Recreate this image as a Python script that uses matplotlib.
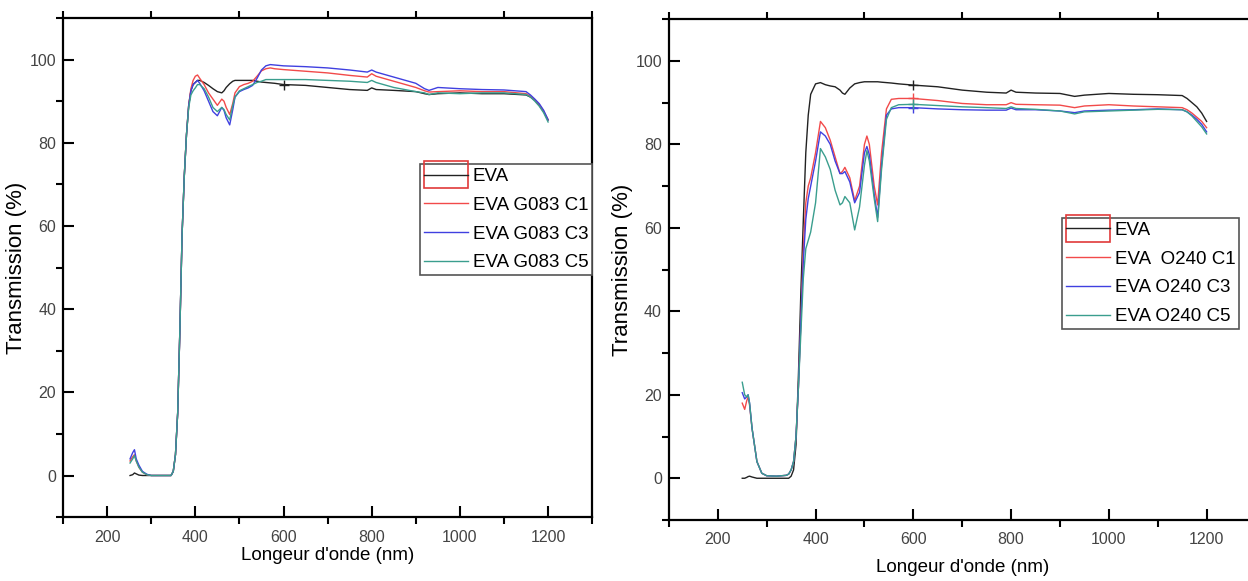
import matplotlib
matplotlib.use("Agg")
import matplotlib.pyplot as plt
from matplotlib.patches import Rectangle
from matplotlib.lines import Line2D
from matplotlib.legend_handler import HandlerTuple, HandlerPatch
from matplotlib.ticker import MultipleLocator

plt.rcParams['font.family'] = ['Liberation Sans', 'DejaVu Sans']

# --- panneau gauche : EVA + G083 ---
wl_g = [252, 258, 262, 266, 272, 280, 290, 300, 320, 340, 345, 350, 355, 360, 365,
        370, 375, 380, 385, 390, 395, 400, 405, 410, 420, 430, 440, 450, 460, 465,
        470, 478, 485, 490, 500, 510, 520, 530, 540, 550, 560, 570, 580, 600, 650,
        700, 750, 790, 800, 810, 850, 900, 920, 930, 950, 1000, 1050, 1100, 1150, 1160,
        1170, 1180, 1190, 1200]
eva_g = [0, 0.2, 0.6, 0.4, 0.1, 0, 0, 0, 0, 0, 0, 1, 5, 15, 35,
         58, 72, 82, 89, 92.5, 94, 94.5, 95, 95, 94.5, 93.8, 93, 92.3, 92, 92.5,
         93.3, 94.2, 94.8, 95, 95, 95, 95, 95, 94.8, 94.6, 94.5, 94.4, 94.3, 94, 93.8,
         93.3, 92.8, 92.6, 93.2, 92.8, 92.6, 92.3, 91.8, 91.6, 91.8, 92, 91.8, 91.8, 91.5, 91,
         90.2, 89, 87.5, 85.5]
g083_c1 = [3.5, 4.5, 5, 3.5, 2, 0.8, 0.2, 0, 0, 0, 0, 1, 5, 15, 35,
           58, 72, 82, 89, 93, 95, 96, 96.3, 95.5, 94, 92, 90.5, 89, 90.5, 90,
           88.5, 86.8, 89.5, 92, 93.5, 94, 94.3, 94.8, 96, 97.3, 97.8, 98, 97.8, 97.6, 97.2,
           96.8, 96.2, 95.8, 96.6, 96, 94.8, 93.3, 92.5, 92.2, 92.3, 92.5, 92.3, 92.3, 91.8, 91.2,
           90.3, 89.2, 87.6, 85.5]
g083_c3 = [4, 5.5, 6.2, 4, 2.5, 1, 0.3, 0, 0, 0, 0, 1, 5, 15, 35,
           58, 72, 82, 89, 92.5, 94, 94.5, 95, 94.3, 92.5, 90, 87.5, 86.5, 88.5, 87.8,
           86, 84.3, 88, 91, 92.3, 92.8, 93.2, 93.8, 95.5, 97.5, 98.5, 98.8, 98.7, 98.5, 98.3,
           98, 97.5, 97, 97.5, 97, 95.8, 94.3, 93, 92.6, 93.3, 93, 92.8, 92.7, 92.3, 91.5,
           90.5, 89.4, 87.8, 85.5]
g083_c5 = [3, 4, 4.8, 3.5, 2, 0.8, 0.2, 0, 0, 0, 0, 1, 5, 15, 35,
           58, 72, 82, 88.5, 91.5, 92.5, 93.2, 94, 94, 93, 91, 88.5, 87.5, 88.5, 88,
           86.8, 85.5, 89, 91, 92.5, 93, 93.5, 94, 94.5, 94.8, 95.2, 95.2, 95.2, 95.2, 95.2,
           95, 94.8, 94.5, 95, 94.5, 93.3, 92.3, 92, 91.6, 92, 91.8, 92, 92, 91.6, 91,
           90, 88.8, 87.2, 85]
labels_g = ['EVA', 'EVA G083 C1', 'EVA G083 C3', 'EVA G083 C5']

# --- panneau droit : EVA + O240 ---
wl_o = [250, 255, 259, 262, 265, 270, 280, 290, 300, 320, 340, 345, 350, 355, 360,
        365, 370, 375, 380, 385, 390, 400, 410, 420, 430, 440, 450, 455, 460, 470,
        480, 490, 500, 505, 510, 520, 527, 535, 545, 555, 570, 600, 650, 700, 750,
        790, 800, 810, 850, 900, 930, 950, 1000, 1050, 1100, 1150, 1160, 1170, 1180, 1190,
        1200]
eva_o = [0, 0, 0.2, 0.4, 0.5, 0.3, 0, 0, 0, 0, 0, 0, 0.5, 2, 8,
         25, 45, 62, 78, 87, 92, 94.5, 94.8, 94.3, 94, 93.8, 93, 92.3, 92, 93.5,
         94.5, 94.8, 95, 95, 95, 95, 95, 94.9, 94.8, 94.7, 94.5, 94.2, 93.8, 93, 92.5,
         92.3, 93, 92.5, 92.3, 92.2, 91.5, 91.8, 92.2, 92, 91.9, 91.7, 91, 90, 89, 87.5,
         85.5]
o240_c1 = [18, 16.5, 18.5, 19.5, 17.5, 12, 4, 1.2, 0.6, 0.5, 0.7, 1, 2, 4, 10,
           22, 38, 55, 66, 70, 72, 78, 85.5, 84, 81, 77, 73, 73.5, 74.5, 72,
           66.5, 70, 80, 82, 80, 70, 65.5, 78, 88.5, 90.8, 91, 91, 90.5, 89.8, 89.5,
           89.5, 90, 89.6, 89.5, 89.4, 88.8, 89.2, 89.5, 89.2, 89, 88.8, 88.3, 87.5, 86.5, 85.5,
           84]
o240_c3 = [20.5, 19, 19.5, 20, 18, 12, 4, 1.2, 0.6, 0.5, 0.7, 1, 2, 4, 10,
           22, 38, 52, 62, 67, 70, 76, 83, 82, 80, 76, 73, 73, 73.5, 71,
           66, 68.5, 78, 79.5, 77.5, 68, 62.5, 75, 87, 88.5, 88.8, 88.8, 88.5, 88.3, 88.2,
           88.2, 88.7, 88.3, 88.3, 88, 87.6, 88, 88.2, 88.3, 88.5, 88.3, 87.8, 87, 86, 84.8,
           83]
o240_c5 = [23, 20, 19.5, 20, 18, 12, 4, 1.2, 0.6, 0.5, 0.7, 1, 2, 4, 10,
           22, 35, 48, 55, 57, 59, 66, 79, 77, 74, 69, 65.5, 66, 67.5, 66,
           59.5, 65, 75, 78.5, 76, 67, 61.5, 74, 86, 88.8, 89.5, 89.6, 89.3, 89, 88.8,
           88.6, 89, 88.6, 88.4, 88, 87.3, 87.8, 88, 88.2, 88.4, 88.3, 87.8, 86.8, 85.5, 84.2,
           82.5]
labels_o = ['EVA', 'EVA  O240 C1', 'EVA O240 C3', 'EVA O240 C5']

couleurs = ['#222222', '#f24a4a', '#4040e0', '#3a9e8e']

fig = plt.figure(figsize=(12.48, 5.81), dpi=100)
ax1 = fig.add_axes([0.0505, 0.110, 0.424, 0.859])
ax2 = fig.add_axes([0.536, 0.105, 0.470, 0.862])


def boite_rouge(legend, orig_handle, xdescent, ydescent, width, height, fontsize):
    # cadre rouge autour du symbole EVA (plus haut que la ligne)
    h2 = 2.1 * height
    return Rectangle((-xdescent, -ydescent + height / 2 - h2 / 2), width, h2)


def panneau(ax, wl, series, labels, mark_idx, all_marks, leg_loc, leg_anchor, xpad):
    lignes = []
    for i, (y, c) in enumerate(zip(series, couleurs)):
        if i == 0 or all_marks:
            l, = ax.plot(wl, y, color=c, lw=1.0, marker='+', markevery=[mark_idx],
                         markersize=7, mew=1.0)
        else:
            l, = ax.plot(wl, y, color=c, lw=1.0)
        lignes.append(l)
    ax.set_xlim(100, 1300)
    ax.set_ylim(-10, 110)
    ax.xaxis.set_major_locator(MultipleLocator(200))
    ax.xaxis.set_minor_locator(MultipleLocator(100))
    ax.yaxis.set_major_locator(MultipleLocator(20))
    ax.yaxis.set_minor_locator(MultipleLocator(10))
    ax.tick_params(which='major', direction='in', length=8, width=1.5,
                   labelsize=11.5, labelcolor='#444444', top=False, right=False)
    ax.tick_params(axis='x', which='major', pad=9)
    ax.tick_params(axis='y', which='major', pad=5)
    ax.tick_params(which='minor', direction='out', length=5, width=1.5,
                   top=True, right=False)
    for s in ax.spines.values():
        s.set_linewidth(1.6)
    ax.set_xlabel("Longeur d'onde (nm)", fontsize=13.5, labelpad=xpad)
    ax.set_ylabel('Transmission (%)', fontsize=16, labelpad=2)

    boite = Rectangle((0, 0), 1, 1, facecolor='none', edgecolor='#e03a3a', lw=1.2)
    noir = Line2D([], [], color=couleurs[0], lw=1.0)
    handles = [(boite, noir)] + lignes[1:]
    leg = ax.legend(handles, labels, loc=leg_loc, bbox_to_anchor=leg_anchor,
                    handler_map={tuple: HandlerTuple(ndivide=1, pad=0),
                                 Rectangle: HandlerPatch(patch_func=boite_rouge)},
                    fontsize=13.5, frameon=True, fancybox=False, framealpha=1,
                    edgecolor='#555555', handlelength=2.35, handletextpad=0.27,
                    labelspacing=0.62, borderpad=0.2, borderaxespad=0)
    leg.get_frame().set_linewidth(1.2)
    for ln in leg.get_lines():
        ln.set_marker('')


panneau(ax1, wl_g, [eva_g, g083_c1, g083_c3, g083_c5], labels_g, 43, False,
        'upper right', (1.0, 0.707), 2)
panneau(ax2, wl_o, [eva_o, o240_c1, o240_c3, o240_c5], labels_o, 41, True,
        'upper left', (0.67, 0.603), 8)
ax2.spines['right'].set_visible(False)

fig.savefig('out.png', dpi=100)
